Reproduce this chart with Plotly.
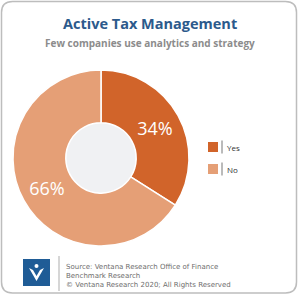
import plotly.graph_objects as go

labels = ["Yes", "No"]
values = [34, 66]
colors = ["#D1642A", "#E59F76"]

title = "Active Tax Management"
subtitle = "Few companies use analytics and strategy"
footer = ["Source: Ventana Research Office of Finance",
          "Benchmark Research",
          "© Ventana Research 2020; All Rights Reserved"]

W, H = 300, 300

def px(x):
    return x / W

def py(y):
    return 1 - y / H

fig = go.Figure()

cx, cy, R = 101, 158, 88
fig.add_trace(go.Pie(
    labels=labels, values=values, hole=0.40,
    sort=False, direction="clockwise", rotation=0,
    marker=dict(colors=colors, line=dict(color="white", width=1.5)),
    textinfo="percent", textposition="inside",
    insidetextorientation="horizontal",
    texttemplate="%{percent:.0%}",
    textfont=dict(color="white", size=18, family="Open Sans"),
    domain=dict(x=[px(cx - R), px(cx + R)], y=[py(cy + R), py(cy - R)]),
    showlegend=False, hoverinfo="label+percent",
))

shapes = []
# hole fill
shapes.append(dict(type="circle", xref="paper", yref="paper", layer="below",
                   x0=px(cx - 35), x1=px(cx + 35), y0=py(cy + 35), y1=py(cy - 35),
                   fillcolor="#F0F1F3", line=dict(width=0)))

# rounded border
def rrect(x0, y0, x1, y1, r):
    pts = (f"M {px(x0 + r)},{py(y0)} L {px(x1 - r)},{py(y0)} "
           f"Q {px(x1)},{py(y0)} {px(x1)},{py(y0 + r)} L {px(x1)},{py(y1 - r)} "
           f"Q {px(x1)},{py(y1)} {px(x1 - r)},{py(y1)} L {px(x0 + r)},{py(y1)} "
           f"Q {px(x0)},{py(y1)} {px(x0)},{py(y1 - r)} L {px(x0)},{py(y0 + r)} "
           f"Q {px(x0)},{py(y0)} {px(x0 + r)},{py(y0)} Z")
    return pts

shapes.append(dict(type="path", xref="paper", yref="paper", path=rrect(1.5, 1.5, 296.5, 293, 11),
                   line=dict(color="#BDBDBD", width=1.5), layer="below"))

annotations = []
annotations.append(dict(text=f"<b>{title}</b>", x=0.5, y=py(24), xref="paper", yref="paper",
                        showarrow=False, font=dict(size=14.5, color="#2C5A8C", family="Open Sans"),
                        xanchor="center", yanchor="middle"))
annotations.append(dict(text=f"<b>{subtitle}</b>", x=0.5, y=py(43), xref="paper", yref="paper",
                        showarrow=False, font=dict(size=10, color="#8C8C8C", family="Open Sans"),
                        xanchor="center", yanchor="middle"))

# legend
leg_y = [147, 169]
for lab, col, ly in zip(labels, colors, leg_y):
    shapes.append(dict(type="rect", xref="paper", yref="paper",
                       x0=px(208), x1=px(218), y0=py(ly + 5), y1=py(ly - 5),
                       fillcolor=col, line=dict(width=0)))
    shapes.append(dict(type="line", xref="paper", yref="paper",
                       x0=px(222), x1=px(222), y0=py(ly + 6.5), y1=py(ly - 6.5),
                       line=dict(color="#777777", width=1)))
    annotations.append(dict(text=lab, x=px(224.5), y=py(ly), xref="paper", yref="paper",
                            showarrow=False, xanchor="left", yanchor="middle",
                            font=dict(size=8, color="#333333", family="Open Sans")))

# logo
shapes.append(dict(type="rect", xref="paper", yref="paper",
                   x0=px(23), x1=px(50), y0=py(286), y1=py(259),
                   fillcolor="#1F5C96", line=dict(width=0)))
vpath = (f"M {px(29)},{py(268)} L {px(36.5)},{py(281)} L {px(44)},{py(268)} "
         f"L {px(40)},{py(270)} L {px(36.5)},{py(276)} L {px(33)},{py(270)} Z")
shapes.append(dict(type="path", xref="paper", yref="paper", path=vpath,
                   fillcolor="white", line=dict(width=0)))
shapes.append(dict(type="circle", xref="paper", yref="paper",
                   x0=px(34.5), x1=px(38.5), y0=py(268), y1=py(264),
                   fillcolor="white", line=dict(width=0)))
shapes.append(dict(type="line", xref="paper", yref="paper",
                   x0=px(59), x1=px(59), y0=py(291), y1=py(256),
                   line=dict(color="#BBBBBB", width=1.2)))

annotations.append(dict(text="<br>".join(footer), x=px(64), y=py(275.5), xref="paper", yref="paper",
                        showarrow=False, xanchor="left", yanchor="middle", align="left",
                        font=dict(size=7.0, color="#6E6E6E", family="DejaVu Sans")))

fig.update_layout(
    width=W, height=H, margin=dict(l=0, r=0, t=0, b=0),
    paper_bgcolor="white", plot_bgcolor="white",
    shapes=shapes, annotations=annotations,
)

fig.write_html("out.html")
